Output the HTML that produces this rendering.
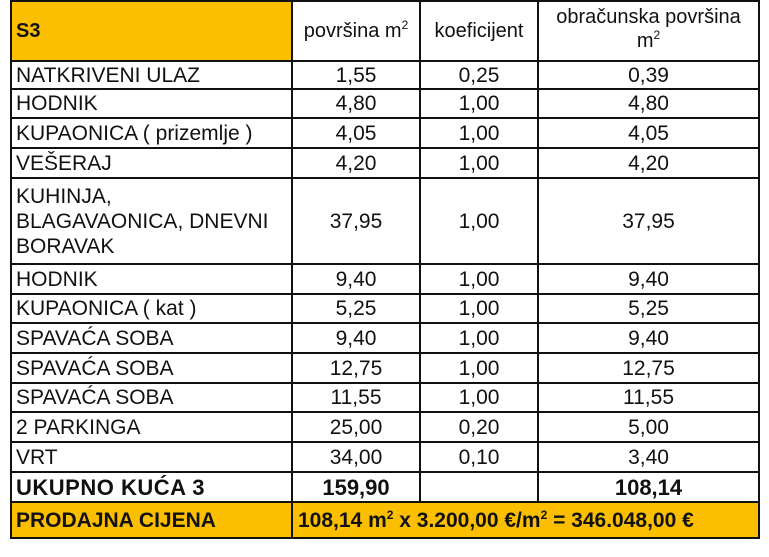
<!DOCTYPE html>
<html><head><meta charset="utf-8"><style>
body{margin:0;width:769px;height:557px;background:#fff;position:relative;overflow:hidden;font-family:"Liberation Sans",Arial,sans-serif;}
table{position:absolute;left:10px;top:0px;border-collapse:collapse;table-layout:fixed;}
td{border:2px solid #111;padding:0;font-size:21px;color:#111;text-align:center;vertical-align:middle;line-height:25px;white-space:nowrap;overflow:hidden;}
td:first-child{text-align:left;padding-left:4px;}
.o{background:#fcbf00;}
.b{font-weight:bold;}
.h{font-size:20px;line-height:24px;}
sup{font-size:12px;vertical-align:8px;line-height:0;}
</style></head><body>
<table>
<colgroup><col style="width:281px"><col style="width:128px"><col style="width:118px"><col style="width:221px"></colgroup>
<tr style="height:60px"><td class="o b" style="font-size:20px">S3</td><td class="h">površina m<sup>2</sup></td><td class="h">koeficijent</td><td class="h" style="vertical-align:top;padding-top:3px">obračunska površina<br>m<sup>2</sup></td></tr>
<tr style="height:28px"><td>NATKRIVENI ULAZ</td><td>1,55</td><td>0,25</td><td>0,39</td></tr>
<tr style="height:29px"><td>HODNIK</td><td>4,80</td><td>1,00</td><td>4,80</td></tr>
<tr style="height:30px"><td>KUPAONICA ( prizemlje )</td><td>4,05</td><td>1,00</td><td>4,05</td></tr>
<tr style="height:30px"><td>VEŠERAJ</td><td>4,20</td><td>1,00</td><td>4,20</td></tr>
<tr style="height:86px"><td style="line-height:25px">KUHINJA,<br>BLAGAVAONICA, DNEVNI<br>BORAVAK</td><td>37,95</td><td>1,00</td><td>37,95</td></tr>
<tr style="height:30px"><td>HODNIK</td><td>9,40</td><td>1,00</td><td>9,40</td></tr>
<tr style="height:29px"><td>KUPAONICA ( kat )</td><td>5,25</td><td>1,00</td><td>5,25</td></tr>
<tr style="height:30px"><td>SPAVAĆA SOBA</td><td>9,40</td><td>1,00</td><td>9,40</td></tr>
<tr style="height:30px"><td>SPAVAĆA SOBA</td><td>12,75</td><td>1,00</td><td>12,75</td></tr>
<tr style="height:29px"><td>SPAVAĆA SOBA</td><td>11,55</td><td>1,00</td><td>11,55</td></tr>
<tr style="height:30px"><td>2 PARKINGA</td><td>25,00</td><td>0,20</td><td>5,00</td></tr>
<tr style="height:30px"><td>VRT</td><td>34,00</td><td>0,10</td><td>3,40</td></tr>
<tr style="height:30px"><td class="b" style="font-size:22px;letter-spacing:0.5px">UKUPNO KUĆA 3</td><td class="b" style="font-size:22px">159,90</td><td></td><td class="b" style="font-size:22px">108,14</td></tr>
<tr style="height:36px"><td class="o b">PRODAJNA CIJENA</td><td class="o b" colspan="3" style="text-align:left;padding-left:5px">108,14 m<sup>2</sup> x 3.200,00 €/m<sup>2</sup> = 346.048,00 €</td></tr>
</table>
</body></html>
